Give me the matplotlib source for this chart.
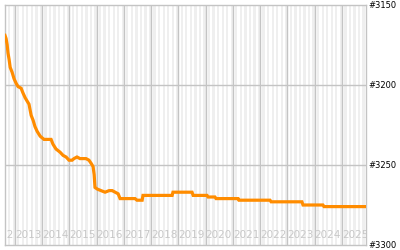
import matplotlib
matplotlib.use('Agg')
import matplotlib.pyplot as plt

# rank history (decimal year, rank)
years = [2012.64, 2012.68, 2012.72, 2012.75, 2012.79, 2012.83, 2012.90, 2012.97,
         2013.05, 2013.12, 2013.23, 2013.30, 2013.38, 2013.52, 2013.60, 2013.67,
         2013.74, 2013.82, 2013.93, 2014.07, 2014.22, 2014.33, 2014.40, 2014.51,
         2014.66, 2014.77, 2014.88, 2014.99, 2015.10, 2015.17, 2015.28, 2015.39,
         2015.61, 2015.72, 2015.80, 2015.87, 2015.91, 2015.94, 2016.02, 2016.16,
         2016.31, 2016.46, 2016.57, 2016.68, 2016.79, 2016.86, 2017.41, 2017.48,
         2017.67, 2017.70, 2017.78, 2018.77, 2018.80, 2019.50, 2019.54, 2020.05,
         2020.09, 2020.34, 2020.38, 2021.19, 2021.22, 2022.36, 2022.40, 2023.53,
         2023.57, 2024.30, 2024.34, 2025.88]
ranks = [3169, 3171, 3175, 3180, 3184, 3189, 3192, 3196,
         3199, 3201, 3202, 3205, 3208, 3212, 3219, 3222,
         3226, 3229, 3232, 3234, 3234, 3234, 3237, 3240,
         3242, 3244, 3245, 3247, 3247, 3246, 3245, 3246,
         3246, 3247, 3249, 3251, 3256, 3264, 3265, 3266,
         3267, 3266, 3266, 3267, 3268, 3271, 3271, 3272,
         3272, 3269, 3269, 3269, 3267, 3267, 3269, 3269,
         3270, 3270, 3271, 3271, 3272, 3272, 3273, 3273,
         3275, 3275, 3276, 3276]

year_labels = list(range(2012, 2026))
rank_ticks = [3150, 3200, 3250, 3300]

x_min, x_max = 2012.64, 2025.88

fig = plt.figure(figsize=(4, 2.5), dpi=100)
ax = fig.add_axes([5/400, 5/250, 361/400, 240/250])

# monthly stripes
for y in range(2012, 2026):
    for m in range(0, 12, 2):
        ax.axvspan(y + (m + 1) / 12, y + (m + 2) / 12, color='#efefef', lw=0, zorder=0)

for y in year_labels[1:]:
    ax.axvline(y, color='#c4c4c4', lw=1, zorder=1)
for r in rank_ticks[1:-1]:
    ax.axhline(r, color='#c4c4c4', lw=1, zorder=1)

ax.plot(years, ranks, color='#ff8c00', lw=2.3, solid_joinstyle='miter', zorder=3)

for y in year_labels:
    ax.text(y, 0.04, str(y), transform=ax.get_xaxis_transform(), color='#c8c8c8',
            fontsize=7.5, ha='left', va='center', clip_on=True, zorder=2)

ax.set_xlim(x_min, x_max)
ax.set_ylim(3300, 3150)
ax.set_xticks([])
ax.yaxis.tick_right()
ax.set_yticks(rank_ticks)
ax.set_yticklabels(['#' + str(r) for r in rank_ticks])
ax.tick_params(axis='y', length=0, pad=1.5, labelsize=6, colors='black')
for s in ax.spines.values():
    s.set_color('#c4c4c4')
    s.set_linewidth(1)

fig.savefig('out.png', dpi=100)
